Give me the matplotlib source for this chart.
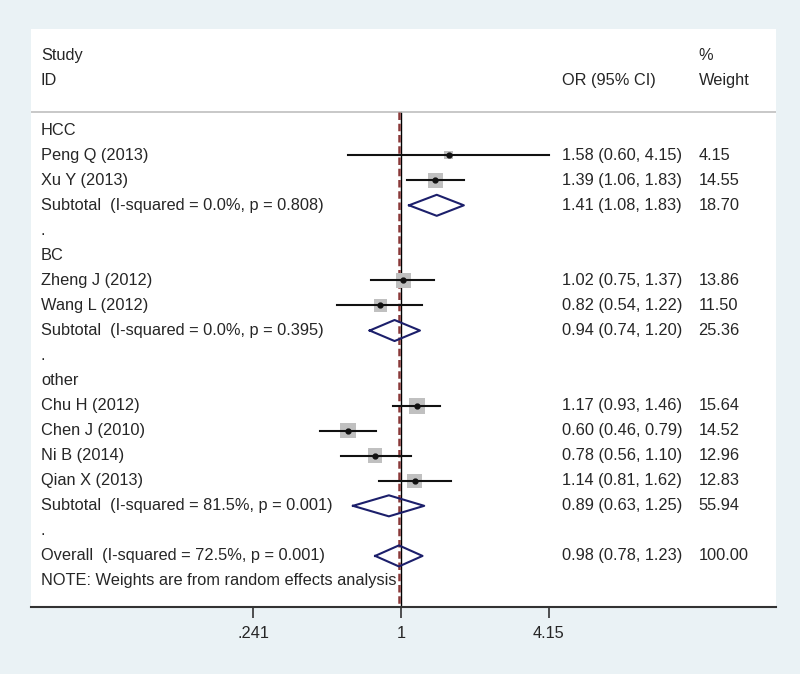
import matplotlib.pyplot as plt
import numpy as np

plt.rcParams['font.family'] = ['Liberation Sans', 'DejaVu Sans']

# rows of the forest plot (label, OR, lower, upper, weight, kind)
labels = ["HCC", "Peng Q (2013)", "Xu Y (2013)",
          "Subtotal  (I-squared = 0.0%, p = 0.808)", ".",
          "BC", "Zheng J (2012)", "Wang L (2012)",
          "Subtotal  (I-squared = 0.0%, p = 0.395)", ".",
          "other", "Chu H (2012)", "Chen J (2010)", "Ni B (2014)", "Qian X (2013)",
          "Subtotal  (I-squared = 81.5%, p = 0.001)", ".",
          "Overall  (I-squared = 72.5%, p = 0.001)"]
kinds = ["group", "study", "study", "sub", "dot",
         "group", "study", "study", "sub", "dot",
         "group", "study", "study", "study", "study", "sub", "dot",
         "sub"]
odds = [None, 1.58, 1.39, 1.41, None,
        None, 1.02, 0.82, 0.94, None,
        None, 1.17, 0.60, 0.78, 1.14, 0.89, None,
        0.98]
lower = [None, 0.60, 1.06, 1.08, None,
         None, 0.75, 0.54, 0.74, None,
         None, 0.93, 0.46, 0.56, 0.81, 0.63, None,
         0.78]
upper = [None, 4.15, 1.83, 1.83, None,
         None, 1.37, 1.22, 1.20, None,
         None, 1.46, 0.79, 1.10, 1.62, 1.25, None,
         1.23]
weights = [None, "4.15", "14.55", "18.70", None,
           None, "13.86", "11.50", "25.36", None,
           None, "15.64", "14.52", "12.96", "12.83", "55.94", None,
           "100.00"]
overall_or = 0.98
xticks = [0.241, 1, 4.15]
xticklabels = [".241", "1", "4.15"]

bg = "#eaf2f5"
txt = "#262626"
navy = "#1c1f6b"

fig = plt.figure(figsize=(8, 6.74), dpi=100, facecolor=bg)
ax = fig.add_axes([31/800, 1 - 607/674, 745/800, 578/674])
ax.set_facecolor("white")
ax.set_xscale("log")
ax.set_xlim(np.exp(-3.558), np.exp(3.606))
ax.set_ylim(22.04, -1.04)

first = 3
n = len(labels)
ys = np.arange(first, first + n)

# headers
tr = ax.get_yaxis_transform()
fs = 11.8
ax.text(0.0134, 0, "Study", transform=tr, va="center", fontsize=fs, color=txt)
ax.text(0.0134, 1, "ID", transform=tr, va="center", fontsize=fs, color=txt)
ax.text(0.713, 1, "OR (95% CI)", transform=tr, va="center", fontsize=fs, color=txt)
ax.text(0.896, 0, "%", transform=tr, va="center", fontsize=fs, color=txt)
ax.text(0.896, 1, "Weight", transform=tr, va="center", fontsize=fs, color=txt)
ax.axhline(2.28, color="#bfbfbf", lw=1.2)

# reference lines
ax.plot([1, 1], [2.28, 22.04], color="black", lw=1.0, zorder=1)
ax.plot([overall_or, overall_or], [2.28, 22.04], color="#8b3a3a", lw=1.8,
        ls=(0, (3, 1.5)), zorder=2)

for y, lab, k, o, lo, hi, w in zip(ys, labels, kinds, odds, lower, upper, weights):
    ax.text(0.0134, y, lab, transform=tr, va="center", fontsize=fs, color=txt)
    if o is None:
        continue
    ax.text(0.713, y, f"{o:.2f} ({lo:.2f}, {hi:.2f})", transform=tr,
            va="center", fontsize=fs, color=txt)
    ax.text(0.896, y, w, transform=tr, va="center", fontsize=fs, color=txt)
    if k == "study":
        wt = float(w)
        ax.scatter([o], [y], marker="s", s=8.5 * wt, color="#c0c0c0",
                   edgecolors="none", zorder=3)
        ax.plot([lo, hi], [y, y], color="#111111", lw=1.5, zorder=4)
        ax.plot([o], [y], "o", color="#111111", ms=3.5, zorder=5)
    else:
        ax.plot([lo, o, hi, o, lo], [y, y - 0.42, y, y + 0.42, y],
                color=navy, lw=1.5, zorder=4)

ax.text(0.0134, 21, "NOTE: Weights are from random effects analysis",
        transform=tr, va="center", fontsize=fs, color=txt)

for s in ["top", "right", "left"]:
    ax.spines[s].set_visible(False)
ax.spines["bottom"].set_color("#333333")
ax.spines["bottom"].set_linewidth(1.5)
ax.set_yticks([])
ax.set_xticks(xticks)
ax.set_xticklabels(xticklabels)
ax.minorticks_off()
ax.tick_params(axis="x", direction="out", length=8, width=1.2, colors="#333333",
               labelsize=fs, labelcolor=txt, pad=6)

fig.savefig("out.png", dpi=100, facecolor=bg)
